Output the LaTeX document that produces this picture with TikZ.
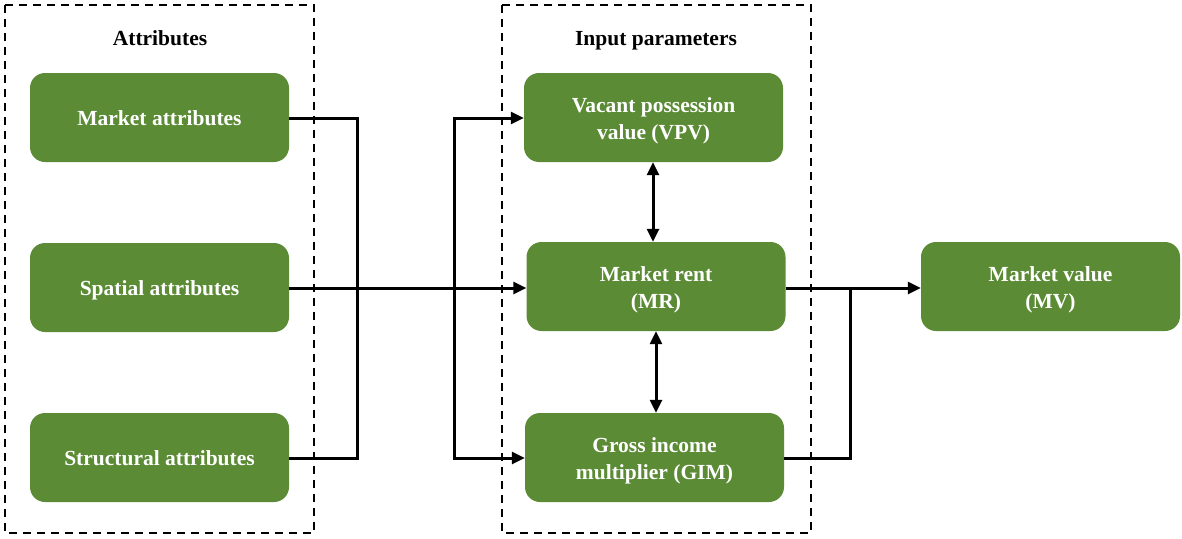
\documentclass[tikz,border=0pt]{standalone}
\usepackage{fontspec}
\setmainfont{Liberation Serif}
\usetikzlibrary{arrows.meta}
\definecolor{boxgreen}{RGB}{91,139,53}
\newcommand\boxtext[1]{\raisebox{-3pt}[\height][\depth]{\begin{tabular}{@{}c@{}}#1\end{tabular}}}
\begin{document}
\begin{tikzpicture}[x=1pt,y=-1pt,
  gbox/.style={draw=none,fill=boxgreen,rounded corners=15pt,minimum width=259pt,minimum height=89pt,
    text=white,font=\fontsize{21.5}{27}\selectfont\bfseries,align=center,inner sep=0pt},
  title/.style={font=\fontsize{21.5}{27}\selectfont\bfseries,text=black,anchor=base,inner sep=0pt},
  frame/.style={draw=black,dashed,line width=2pt,dash pattern=on 8pt off 6pt},
  conn/.style={draw=black,line width=3pt},
  arr/.style={conn,-{Triangle[length=13pt,width=12pt]}},
  darr/.style={conn,{Triangle[length=13pt,width=12pt]}-{Triangle[length=13pt,width=12pt]}}]
\useasboundingbox (0,0) rectangle (1182,538);
\draw[frame] (5,5) rectangle (314,533);
\draw[frame] (502,5) rectangle (811,533);
\node[title] (t1) at (160,45) {Attributes};
\node[title] (t2) at (656,45) {Input parameters};
\node[gbox] (ma) at (159.5,117.5) {\boxtext{Market attributes}};
\node[gbox] (sa) at (159.5,287.5) {\boxtext{Spatial attributes}};
\node[gbox] (st) at (159.5,457.5) {\boxtext{Structural attributes}};
\node[gbox] (vpv) at (653.5,117.5) {\boxtext{Vacant possession\\value (VPV)}};
\node[gbox] (mr) at (656,286.5) {\boxtext{Market rent\\(MR)}};
\node[gbox] (gim) at (654.5,457.5) {\boxtext{Gross income\\multiplier (GIM)}};
\node[gbox] (mv) at (1050.5,286.5) {\boxtext{Market value\\(MV)}};
\coordinate (j1) at (357,118);
\coordinate (j2) at (357,458);
\coordinate (k1) at (454,118);
\coordinate (k2) at (454,458);
\coordinate (r1) at (850,458);
\coordinate (r2) at (850,288);
\draw[conn] (ma.east |- j1) -- (j1) -- (j2) -- (st.east |- j2);
\draw[arr] (sa.east |- 0,288) -- (mr.west |- 0,288);
\draw[arr] (k2) -- (k1) -- (vpv.west |- k1);
\draw[arr] (k1) -- (k2) -- (gim.west |- k2);
\draw[arr] (mr.east |- r2) -- (mv.west |- r2);
\draw[conn] (gim.east |- r1) -- (r1) -- (r2);
\draw[darr] (vpv.south -| 653,0) -- (mr.north -| 653,0);
\draw[darr] (mr.south) -- (gim.north -| mr.south);
\end{tikzpicture}
\end{document}
